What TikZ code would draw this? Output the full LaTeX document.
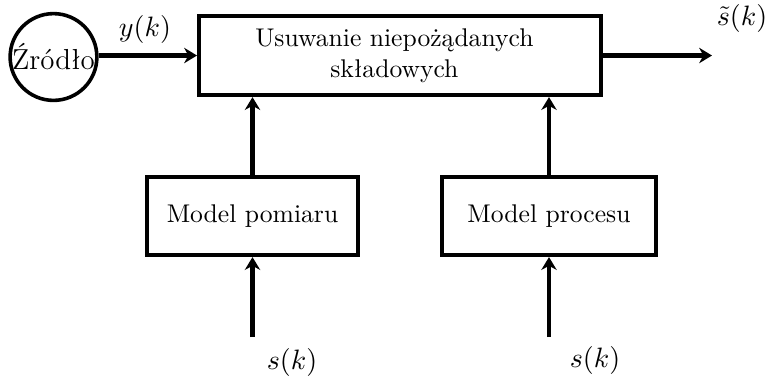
\documentclass[tikz,border=0pt]{standalone}
\usepackage{fontspec}
\usetikzlibrary{arrows.meta}
\tikzset{
  px/.style={x=0.390625pt,y=-0.390625pt},
  wire/.style={line width=1.6pt,-{Stealth[length=5pt,width=6pt,inset=1.6pt]}},
  blk/.style={draw,line width=1.6pt,inner sep=0pt,font=\fontsize{10}{12}\selectfont},
  src/.style={draw,circle,line width=1.4pt,inner sep=0pt,minimum size=32pt,font=\fontsize{11.3}{13}\selectfont},
  sig/.style={inner sep=0pt,font=\fontsize{11.3}{13}\selectfont}
}
\begin{document}
\begin{tikzpicture}[px]
\useasboundingbox (0,0) rectangle (770,376);
\node[src] (zr) at (53.5,57) {Źródło};
\node[blk,minimum width=157pt,minimum height=30.9pt] (us) at (400,55.5)
  {\begin{tabular}{@{}c@{}}Usuwanie niepożądanych\\składowych\end{tabular}\kern4.4pt};
\node[blk,minimum width=82.4pt,minimum height=30.5pt] (mp) at (252.5,216) {Model pomiaru};
\node[blk,minimum width=83.6pt,minimum height=30.5pt] (mr) at (549,216) {Model procesu};
\coordinate (out) at (712,55.5);
\coordinate (in1) at (252.5,337);
\coordinate (in2) at (549,337);
\node[sig] (ly) at (145,29) {$y(k)$};
\node[sig] (ls) at (742,18) {$\tilde{s}(k)$};
\node[sig] (l1) at (292,362) {$s(k)$};
\node[sig] (l2) at (595,360) {$s(k)$};
\draw[wire] (zr.east |- us.west) -- (us.west);
\draw[wire] (us.east) -- (out);
\draw[wire] (mp.north) -- (mp.north |- us.south);
\draw[wire] (mr.north) -- (mr.north |- us.south);
\draw[wire] (in1) -- (mp.south);
\draw[wire] (in2) -- (mr.south);
\end{tikzpicture}
\end{document}
